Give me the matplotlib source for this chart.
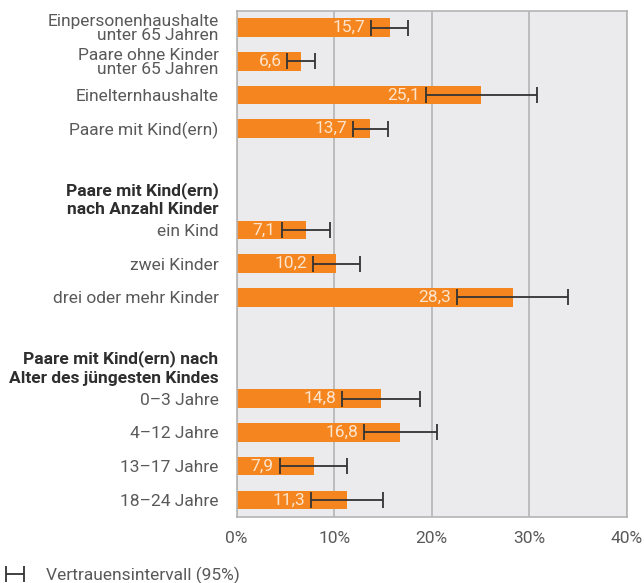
import numpy as np
import matplotlib
matplotlib.use("Agg")
import matplotlib.pyplot as plt

# rows from top to bottom; "" marks an empty spacer row
labels = [
    "Einpersonenhaushalte\nunter 65 Jahren",
    "Paare ohne Kinder\nunter 65 Jahren",
    "Einelternhaushalte",
    "Paare mit Kind(ern)",
    "",
    "Paare mit Kind(ern)\nnach Anzahl Kinder",
    "ein Kind",
    "zwei Kinder",
    "drei oder mehr Kinder",
    "",
    "Paare mit Kind(ern) nach\nAlter des jüngesten Kindes",
    "0–3 Jahre",
    "4–12 Jahre",
    "13–17 Jahre",
    "18–24 Jahre",
]
headers = [
    "Paare mit Kind(ern)\nnach Anzahl Kinder",
    "Paare mit Kind(ern) nach\nAlter des jüngesten Kindes",
]
nan = np.nan
values = [15.7, 6.6, 25.1, 13.7, nan, nan, 7.1, 10.2, 28.3, nan, nan, 14.8, 16.8, 7.9, 11.3]
ci_low = [13.8, 5.2, 19.4, 11.9, nan, nan, 4.6, 7.8, 22.6, nan, nan, 10.8, 13.1, 4.4, 7.6]
ci_high = [17.6, 8.0, 30.8, 15.5, nan, nan, 9.6, 12.6, 34.0, nan, nan, 18.8, 20.5, 11.3, 15.0]
xticks = [0, 10, 20, 30, 40]

plt.rcParams['font.family'] = ['Roboto', 'DejaVu Sans']

orange = '#f5861f'
grey_txt = '#595959'
grid_c = '#b4b4b4'
fs = 12.5

fig = plt.figure(figsize=(6.44, 5.83), dpi=100)
ax = fig.add_axes([0.3675, 0.1137, 0.6055, 0.868])
ax.set_facecolor('#ebebee')

y = np.arange(len(labels))
vals = np.array(values)
lo = np.array(ci_low)
hi = np.array(ci_high)
mask = ~np.isnan(vals)

ax.barh(y[mask], vals[mask], height=0.55, color=orange, zorder=2)
eb = ax.errorbar(vals[mask], y[mask],
                 xerr=[vals[mask] - lo[mask], hi[mask] - vals[mask]],
                 fmt='none', ecolor='#333333', elinewidth=1.3,
                 capsize=6, capthick=1.3, zorder=3)

# value labels sit just left of the lower confidence bound
for yy, v, l in zip(y[mask], vals[mask], lo[mask]):
    ax.text(l - 0.6, yy, f"{v:.1f}".replace('.', ','), ha='right', va='center',
            color='#fde4cc', fontsize=fs, zorder=4)

ax.set_xlim(0, 40)
ax.set_ylim(len(labels) - 0.5, -0.5)
ax.set_xticks(xticks)
ax.set_xticklabels([f"{t}%" for t in xticks])
ax.xaxis.grid(True, color=grid_c, linewidth=1.2, zorder=1)
ax.set_axisbelow(True)
for s in ax.spines.values():
    s.set_color(grid_c)
    s.set_linewidth(1.2)
ax.tick_params(axis='x', length=0, pad=10, labelsize=fs, labelcolor=grey_txt)

ax.set_yticks(y)
ax.set_yticklabels(labels)
ax.tick_params(axis='y', length=0, pad=13, labelsize=fs)
for t in ax.get_yticklabels():
    if t.get_text() in headers:
        t.set_fontweight('bold')
        t.set_color('#2e2e2e')
        t.set_linespacing(1.3)
    else:
        t.set_color(grey_txt)
        t.set_linespacing(0.92)

leg = fig.legend([eb], ['Vertrauensintervall (95%)'], loc='lower left',
                 bbox_to_anchor=(-0.009, -0.022), frameon=False,
                 handlelength=1.0, handletextpad=1.3, borderpad=0.2,
                 prop={'size': fs})
for t in leg.get_texts():
    t.set_color(grey_txt)

fig.savefig('out.png', dpi=100)
